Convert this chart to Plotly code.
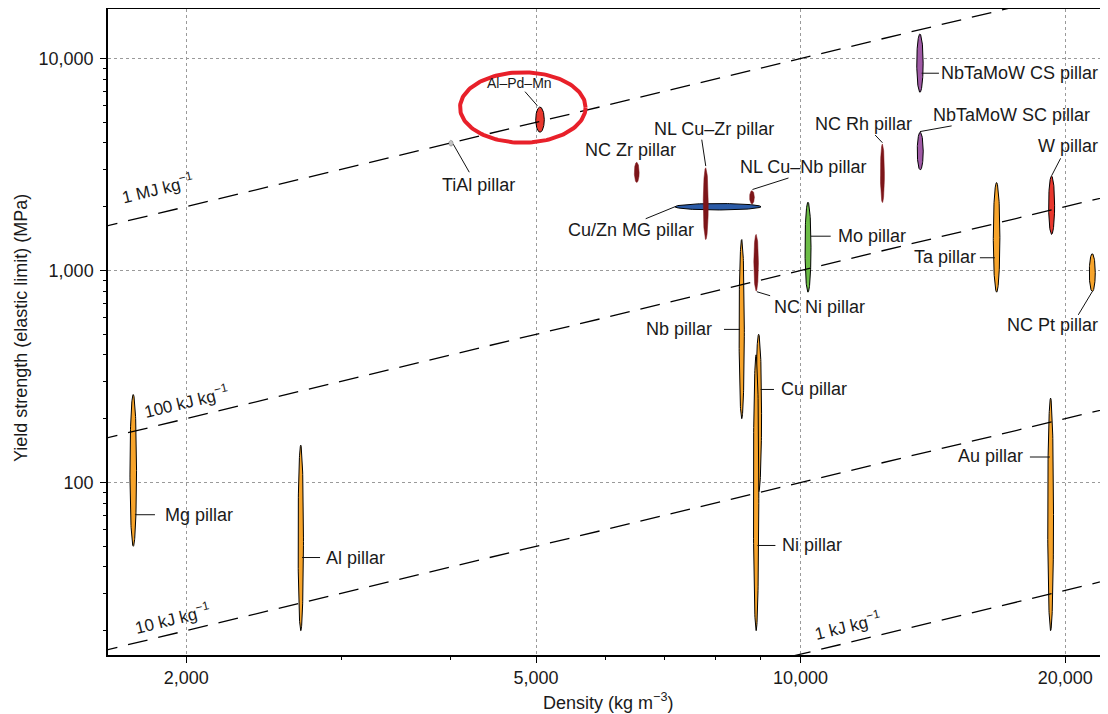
import numpy as np
import plotly.graph_objects as go

# ---------------- data ----------------
materials = ["Mg pillar", "Al pillar", "Nb pillar", "Cu pillar", "Ni pillar",
             "NC Ni pillar", "Cu/Zn MG pillar", "NL Cu–Zr pillar", "NL Cu–Nb pillar",
             "NC Zr pillar", "Al–Pd–Mn", "TiAl pillar", "Mo pillar", "NC Rh pillar",
             "NbTaMoW CS pillar", "NbTaMoW SC pillar", "Ta pillar", "W pillar",
             "NC Pt pillar", "Au pillar"]
# density range (kg m^-3)
density_lo = [1726, 2681, 8512, 8892, 8837, 8847, 7195, 7749, 8749, 6469,
              4996, 3979, 10116, 12325, 13556, 13573, 16566, 19149, 21302, 19104]
density_hi = [1756, 2719, 8629, 9028, 8963, 8954, 9015, 7851, 8859, 6551,
              5110, 4025, 10276, 12455, 13785, 13788, 16855, 19452, 21639, 19397]
# yield strength range (MPa)
strength_lo = [50, 20, 200, 90, 20, 800, 1930, 1400, 2060, 2600,
               4490, 3860, 790, 2090, 6930, 2980, 790, 1480, 795, 20]
strength_hi = [260, 150, 1400, 500, 400, 1480, 2070, 3050, 2380, 3240,
               5900, 4110, 2100, 3950, 13050, 4490, 2600, 2790, 1200, 250]
material_class = ["metal", "metal", "metal", "metal", "metal",
                  "nano", "glass", "nano", "nano", "nano",
                  "quasi", "inter", "bcc", "nano",
                  "hea", "hea", "metal", "quasi", "metal", "metal"]

# specific-energy guide lines (kJ kg^-1), as drawn, and their labels
guide_energy_kJ = [1000, 100, 10, 1.55]
guide_labels = ["1 MJ kg<sup>−1</sup>", "100 kJ kg<sup>−1</sup>",
                "10 kJ kg<sup>−1</sup>", "1 kJ kg<sup>−1</sup>"]
guide_label_density = [1853, 2000, 1928, 11320]

x_tick_vals = [2000, 5000, 10000, 20000]
x_tick_text = ["2,000", "5,000", "10,000", "20,000"]
x_minor_vals = [3000, 4000, 6000, 7000, 8000, 9000]
y_tick_vals = [100, 1000, 10000]
y_tick_text = ["100", "1,000", "10,000"]
y_minor_vals = [20, 30, 40, 50, 60, 70, 80, 90,
                200, 300, 400, 500, 600, 700, 800, 900,
                2000, 3000, 4000, 5000, 6000, 7000, 8000, 9000]

# ---------------- styles / layout ----------------
FONT = "Liberation Sans, Arial, Helvetica, sans-serif"
TXT = "#1a1a1a"
W, H = 1100, 706          # page body adds an 8 px margin
ML, MR, MT, MB = 100, 0, 1, 59
XR = [3.21205, 4.34971]
YR = [1.18632, 4.23349]
PXX = (W - ML - MR) / (XR[1] - XR[0])
PXY = (H - MT - MB) / (YR[1] - YR[0])

CLASS_STYLE = {
    "metal": dict(fill="#f7a42b", line="#000000", lw=1.0),
    "nano": dict(fill="#7d1519", line="#7d1519", lw=0.5),
    "glass": dict(fill="#2b5ba7", line="#000000", lw=1.0),
    "quasi": dict(fill="#e8372d", line="#000000", lw=1.0),
    "inter": dict(fill="#c4c4c4", line="#8a8a8a", lw=0.7),
    "bcc": dict(fill="#6cbd46", line="#000000", lw=1.0),
    "hea": dict(fill="#a05aa6", line="#000000", lw=1.0),
}

# label placement: text offset (px from ellipse centre), anchor, leader (px offsets)
LABEL_LAYOUT = {
    "Mg pillar": dict(tx=29.7, ty=44.3, anchor="left", leader=(1.7, 44.3, 21.7, 44.3)),
    "Al pillar": dict(tx=23.3, ty=19.6, anchor="left", leader=(1.3, 19.6, 19.3, 19.6)),
    "Nb pillar": dict(tx=-27.7, ty=0.3, anchor="right", leader=(-1.7, 0.3, -17.7, 0.3)),
    "Cu pillar": dict(tx=20.3, ty=-23.8, anchor="left", leader=(2, -23.8, 15.3, -23.8)),
    "Ni pillar": dict(tx=24, ty=52.7, anchor="left", leader=(1.3, 52.7, 19.3, 52.7)),
    "NC Ni pillar": dict(tx=15.7, ty=44, anchor="left", leader=(0.7, 29, 14, 33)),
    "NL Cu–Zr pillar": dict(tx=8, ty=-75, anchor="center", leader=(0, -37.6, -4, -64)),
    "Cu/Zn MG pillar": dict(tx=-86.7, ty=23, anchor="center", leader=(-43, 0, -72.3, 12)),
    "NL Cu–Nb pillar": dict(tx=51, ty=-30.3, anchor="center", leader=(0.5, -7.8, 36.5, -19.3)),
    "NC Zr pillar": dict(tx=-6.2, ty=-22.3, anchor="center", leader=None),
    "Al–Pd–Mn": dict(tx=-20.3, ty=-36.4, anchor="center", leader=(-2.7, -14, -15, -28), size=14),
    "TiAl pillar": dict(tx=27.3, ty=41.7, anchor="center", leader=(2.3, 1, 18.3, 29)),
    "Mo pillar": dict(tx=27.7, ty=-11, anchor="left", leader=(3, -11, 22.7, -11)),
    "NC Rh pillar": dict(tx=-19.3, ty=-49.3, anchor="center", leader=(0, -30.6, -7.3, -38.3)),
    "NbTaMoW CS pillar": dict(tx=19, ty=10.1, anchor="left", leader=(1.7, 10.1, 19, 10.1)),
    "NbTaMoW SC pillar": dict(tx=90.9, ty=-36.2, anchor="center", leader=(-0.3, -19.5, 31.4, -25.2)),
    "Ta pillar": dict(tx=-18.4, ty=19.4, anchor="right", leader=(-1.7, 20.4, -16.7, 20.4)),
    "W pillar": dict(tx=16.5, ty=-59.5, anchor="center", leader=(0, -29.5, 9, -46.9)),
    "NC Pt pillar": dict(tx=-39.5, ty=52.2, anchor="center", leader=(0, 18.9, -14, 42.2)),
    "Au pillar": dict(tx=-25.7, ty=-58.7, anchor="right", leader=(-0.7, -57.4, -20.7, -57.4)),
}
GUIDE_LABEL_SHIFT = [25.7, 18, 16, 17.7]
# highlight ring around Al–Pd–Mn (centre in data units, half-size in decades)
HIGHLIGHT = dict(density=4830, strength=5873, half_dx=0.0714, half_dy=0.166, color="#e8202a", width=4)

fig = go.Figure()
t = np.linspace(0, 2 * np.pi, 160)

# ellipses
for i, name in enumerate(materials):
    cx = (np.log10(density_lo[i]) + np.log10(density_hi[i])) / 2
    ax = (np.log10(density_hi[i]) - np.log10(density_lo[i])) / 2
    cy = (np.log10(strength_lo[i]) + np.log10(strength_hi[i])) / 2
    ay = (np.log10(strength_hi[i]) - np.log10(strength_lo[i])) / 2
    st = CLASS_STYLE[material_class[i]]
    fig.add_trace(go.Scatter(
        x=10 ** (cx + ax * np.cos(t)), y=10 ** (cy + ay * np.sin(t)),
        mode="lines", fill="toself", fillcolor=st["fill"],
        line=dict(color=st["line"], width=st["lw"]), hoverinfo="text", text=name))

# guide lines (drawn on top of ellipses)
xline = np.array([10 ** XR[0] * 0.9, 10 ** XR[1] * 1.1])
for E in guide_energy_kJ:
    fig.add_trace(go.Scatter(x=xline, y=E * xline / 1000.0, mode="lines",
                             line=dict(color="black", width=1.3, dash="20px,11px"),
                             hoverinfo="skip"))

# highlight ring
hx = 10 ** (np.log10(HIGHLIGHT["density"]) + HIGHLIGHT["half_dx"] * np.cos(t))
hy = 10 ** (np.log10(HIGHLIGHT["strength"]) + HIGHLIGHT["half_dy"] * np.sin(t))
fig.add_trace(go.Scatter(x=hx, y=hy, mode="lines",
                         line=dict(color=HIGHLIGHT["color"], width=HIGHLIGHT["width"]),
                         hoverinfo="skip"))

annotations = []
# labels & leaders
for i, name in enumerate(materials):
    cx = (np.log10(density_lo[i]) + np.log10(density_hi[i])) / 2
    cy = (np.log10(strength_lo[i]) + np.log10(strength_hi[i])) / 2
    L = LABEL_LAYOUT[name]
    if L["leader"] is not None:
        x0, y0, x1, y1 = L["leader"]
        fig.add_trace(go.Scatter(
            x=[10 ** (cx + x0 / PXX), 10 ** (cx + x1 / PXX)],
            y=[10 ** (cy - y0 / PXY), 10 ** (cy - y1 / PXY)],
            mode="lines", line=dict(color="#111111", width=1), hoverinfo="skip"))
    annotations.append(dict(
        x=cx, y=cy, xref="x", yref="y", text=name, showarrow=False,
        xshift=L["tx"], yshift=-L["ty"], xanchor=L["anchor"], yanchor="middle",
        font=dict(family=FONT, size=L.get("size", 18), color=TXT)))

ang = np.degrees(np.arctan(PXY / PXX))
for E, lab, d, sh in zip(guide_energy_kJ, guide_labels, guide_label_density, GUIDE_LABEL_SHIFT):
    annotations.append(dict(
        x=np.log10(d), y=np.log10(E * d / 1000.0), xref="x", yref="y",
        text=lab, showarrow=False, textangle=-ang, yshift=sh,
        xanchor="center", yanchor="middle",
        font=dict(family=FONT, size=17, color=TXT)))

# axis titles
plot_h = H - MT - MB
annotations.append(dict(x=0.5, y=-MB / plot_h, xref="paper", yref="paper",
                        text="Density (kg m<sup>−3</sup>)", showarrow=False,
                        xanchor="center", yanchor="bottom", borderpad=0,
                        font=dict(family=FONT, size=18, color=TXT)))
annotations.append(dict(x=-0.087, y=0.506, xref="paper", yref="paper",
                        text="Yield strength (elastic limit) (MPa)", showarrow=False,
                        textangle=-90, xanchor="center", yanchor="middle",
                        font=dict(family=FONT, size=18, color=TXT)))

axis_common = dict(
    type="log", showline=True, linecolor="black", linewidth=1.5,
    showgrid=True, gridcolor="#9a9a9a", griddash="dot", gridwidth=1,
    ticks="outside", ticklen=6, tickwidth=1.2, tickcolor="black",
    zeroline=False, tickfont=dict(family=FONT, size=18, color=TXT),
)
fig.update_layout(
    width=W, height=H, margin=dict(l=ML, r=MR, t=MT, b=MB),
    plot_bgcolor="white", paper_bgcolor="white", showlegend=False,
    annotations=annotations,
    xaxis=dict(**axis_common, range=XR, mirror=True,
               tickmode="array", tickvals=x_tick_vals, ticktext=x_tick_text,
               minor=dict(tickmode="array", tickvals=x_minor_vals, ticks="outside",
                          ticklen=3.5, tickwidth=1, tickcolor="black", showgrid=False)),
    yaxis=dict(**axis_common, range=YR, mirror=False, ticklabelstandoff=3,
               tickmode="array", tickvals=y_tick_vals, ticktext=y_tick_text,
               minor=dict(tickmode="array", tickvals=y_minor_vals, ticks="outside",
                          ticklen=3.5, tickwidth=1, tickcolor="black", showgrid=False)),
)

fig.write_html("out.html")
